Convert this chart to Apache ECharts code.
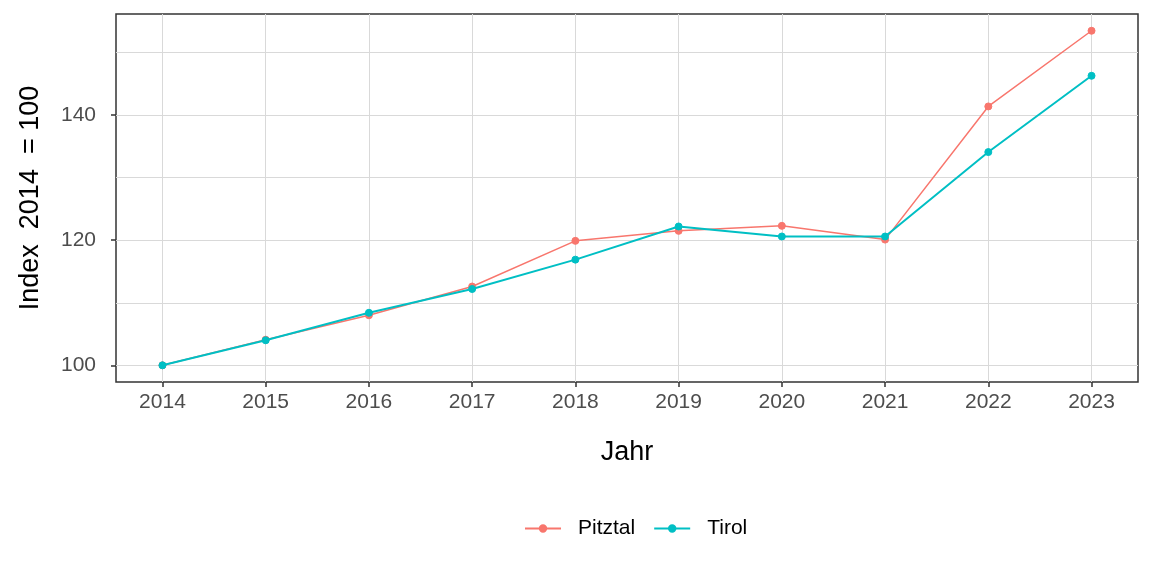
<!DOCTYPE html>
<html>
<head>
<meta charset="utf-8">
<script src="https://cdn.jsdelivr.net/npm/echarts@6/dist/echarts.min.js"></script>
<style>
  html, body { margin: 0; padding: 0; background: #fff; }
  #main { width: 1152px; height: 576px; }
</style>
</head>
<body>
<div id="main"></div>
<script>
var years = [2014, 2015, 2016, 2017, 2018, 2019, 2020, 2021, 2022, 2023];
var pitztal = [100, 104.1, 108.0, 112.6, 119.9, 121.5, 122.3, 120.1, 141.4, 153.5];
var tirol = [100, 104.0, 108.4, 112.2, 116.9, 122.2, 120.6, 120.6, 134.1, 146.3];
var yLabels = [100, 120, 140];
var yGrid = [100, 110, 120, 130, 140, 150];

function pairs(vals) {
    return years.map(function (y, i) { return [y, vals[i]]; });
}

var myChart = echarts.init(document.getElementById('main'));

// grid lines drawn as mark lines (axis range starts at a non-round value)
var gridLines = yGrid.map(function (v) { return { yAxis: v }; })
    .concat(years.map(function (y) { return { xAxis: y }; }));

var option = {
    animation: false,
    textStyle: { fontFamily: 'Liberation Sans, Arial, sans-serif' },
    grid: {
        left: 116, right: 14, top: 14, bottom: 194,
        show: true,
        borderColor: '#333333',
        borderWidth: 1.5
    },
    legend: {
        data: ['Pitztal', 'Tirol'],
        top: 513,
        left: 519,
        itemWidth: 36,
        itemHeight: 8,
        itemGap: 18,
        textStyle: { fontSize: 21, color: '#000', padding: [0, 0, 0, 12] }
    },
    xAxis: {
        type: 'value',
        min: 2013.55,
        max: 2023.45,
        name: 'Jahr',
        nameLocation: 'middle',
        nameGap: 57,
        nameTextStyle: { fontSize: 27, color: '#000' },
        axisLine: { show: false },
        splitLine: { show: false },
        axisTick: { show: true, customValues: years, length: 5, lineStyle: { color: '#333', width: 1.5 } },
        axisLabel: { customValues: years, fontSize: 21, color: '#4d4d4d', margin: 10,
            formatter: function (v) { return String(v); } }
    },
    yAxis: {
        type: 'value',
        min: 97.33,
        max: 156.18,
        name: 'Index  2014  = 100',
        nameLocation: 'middle',
        nameGap: 72,
        nameTextStyle: { fontSize: 27, color: '#000' },
        axisLine: { show: false },
        splitLine: { show: false },
        axisTick: { show: true, customValues: yLabels, length: 5, lineStyle: { color: '#333', width: 1.5 } },
        axisLabel: { customValues: yLabels, fontSize: 21, color: '#4d4d4d', margin: 20 }
    },
    series: [
        {
            name: 'grid',
            type: 'line',
            data: [],
            silent: true,
            z: 0,
            markLine: {
                silent: true,
                z: 0,
                symbol: 'none',
                label: { show: false },
                animation: false,
                lineStyle: { color: '#d9d9d9', width: 1, type: 'solid' },
                emphasis: { disabled: true },
                data: gridLines
            }
        },
        {
            name: 'Pitztal',
            type: 'line',
            z: 3,
            data: pairs(pitztal),
            symbol: 'circle',
            symbolSize: 7,
            itemStyle: { color: '#F8766D', borderColor: '#F8766D', borderWidth: 1 },
            lineStyle: { color: '#F8766D', width: 1.5 }
        },
        {
            name: 'Tirol',
            type: 'line',
            z: 4,
            data: pairs(tirol),
            symbol: 'circle',
            symbolSize: 7,
            itemStyle: { color: '#00BFC4', borderColor: '#00BFC4', borderWidth: 1 },
            lineStyle: { color: '#00BFC4', width: 2 }
        }
    ]
};

myChart.setOption(option);
</script>
</body>
</html>
